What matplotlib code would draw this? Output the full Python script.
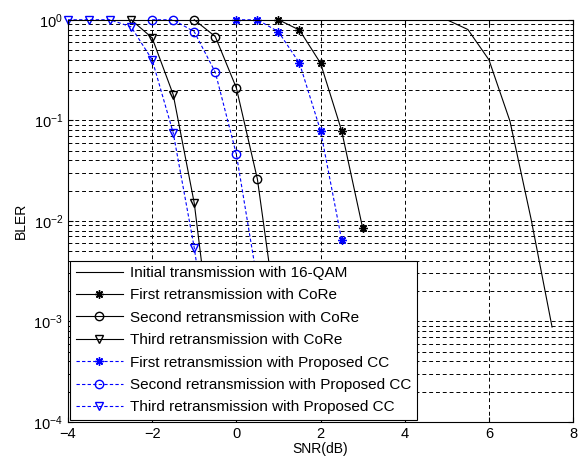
import matplotlib.pyplot as plt

plt.rcParams['font.family'] = ['Liberation Sans', 'DejaVu Sans']

# Data

snr_init = [5.0, 5.5, 6.0, 6.5, 7.0, 7.5]
bler_init = [1.0, 0.8, 0.4, 0.098, 0.0105, 0.00088]

snr_core1 = [1.0, 1.5, 2.0, 2.5, 3.0]
bler_core1 = [1.0, 0.79, 0.37, 0.079, 0.0085]

snr_core2 = [-1.0, -0.5, 0.0, 0.5, 1.0]
bler_core2 = [1.0, 0.68, 0.21, 0.026, 0.0008]

snr_core3 = [-2.5, -2.0, -1.5, -1.0, -0.5]
bler_core3 = [1.0, 0.66, 0.18, 0.015, 0.0003]

snr_cc1 = [0.0, 0.5, 1.0, 1.5, 2.0, 2.5]
bler_cc1 = [1.0, 1.0, 0.76, 0.37, 0.079, 0.0065]

snr_cc2 = [-2.0, -1.5, -1.0, -0.5, 0.0, 0.5]
bler_cc2 = [1.0, 1.0, 0.76, 0.30, 0.046, 0.0025]

snr_cc3 = [-4.0, -3.5, -3.0, -2.5, -2.0, -1.5, -1.0, -0.5]
bler_cc3 = [1.0, 1.0, 1.0, 0.85, 0.40, 0.075, 0.0054, 0.0002]

labels = ['Initial transmission with 16-QAM',
          'First retransmission with CoRe',
          'Second retransmission with CoRe',
          'Third retransmission with CoRe',
          'First retransmission with Proposed CC',
          'Second retransmission with Proposed CC',
          'Third retransmission with Proposed CC']

fig = plt.figure(figsize=(5.86, 4.65), dpi=100)
ax = fig.add_axes([0.116, 0.0925, 0.862, 0.865])

star = (8, 2, 0)
blue_dash = (0, (3, 2))

ax.semilogy(snr_init, bler_init, color='k', lw=0.8, label=labels[0])
ax.semilogy(snr_core1, bler_core1, color='k', lw=0.8, marker=star, ms=6,
            label=labels[1], clip_on=False)
ax.semilogy(snr_core2, bler_core2, color='k', lw=0.8, marker='o', ms=6,
            mfc='none', label=labels[2], clip_on=False)
ax.semilogy(snr_core3, bler_core3, color='k', lw=0.8, marker='v', ms=6,
            mfc='none', label=labels[3], clip_on=False)
ax.semilogy(snr_cc1, bler_cc1, color='b', lw=0.8, ls=blue_dash, marker=star, ms=6,
            label=labels[4], clip_on=False)
ax.semilogy(snr_cc2, bler_cc2, color='b', lw=0.8, ls=blue_dash, marker='o', ms=6,
            mfc='none', label=labels[5], clip_on=False)
ax.semilogy(snr_cc3, bler_cc3, color='b', lw=0.8, ls=blue_dash, marker='v', ms=6,
            mfc='none', label=labels[6], clip_on=False)

ax.set_xlim(-4, 8)
ax.set_ylim(1e-4, 1)
ax.set_xticks([-4, -2, 0, 2, 4, 6, 8])
ax.set_xlabel('SNR(dB)', fontsize=10, labelpad=1)
ax.set_ylabel('BLER', fontsize=10)
ax.tick_params(which='both', direction='in', labelsize=10.5, top=True, right=True)
ax.grid(True, which='major', color='k', lw=0.7, ls=(0, (4, 3)))
ax.grid(True, which='minor', axis='y', color='k', lw=0.7, ls=(0, (4, 3)))
for s in ax.spines.values():
    s.set_linewidth(0.8)

leg = ax.legend(loc='lower left', fontsize=11, handlelength=3.1, fancybox=False,
                framealpha=1, edgecolor='k', labelspacing=0.55,
                borderaxespad=0.15, handletextpad=0.45, borderpad=0.35)
leg.get_frame().set_linewidth(0.8)

fig.savefig('out.png', dpi=100)
